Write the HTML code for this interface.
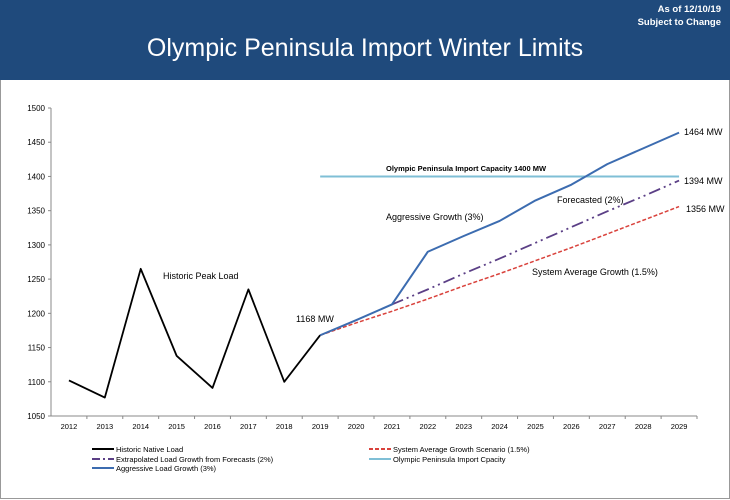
<!DOCTYPE html>
<html><head><meta charset="utf-8"><style>
body{margin:0;background:#fff;font-family:"Liberation Sans",sans-serif}
#wrap{position:relative;width:730px;height:500px;overflow:hidden;background:#fff}
</style></head><body>
<div id="wrap">
<div style="position:absolute;left:0;top:0;width:730px;height:80px;background:#1f4a7c"></div>
<div style="position:absolute;right:9px;top:3px;color:#fff;font-size:9.5px;font-weight:bold;text-align:right;line-height:13px">As of 12/10/19<br>Subject to Change</div>
<div style="position:absolute;left:0;width:730px;top:34px;color:#fff;font-size:25px;text-align:center">Olympic Peninsula Import Winter Limits</div>
<div style="position:absolute;left:0;top:80px;width:728px;height:418px;border:1px solid #999;border-top:none"></div>
<svg id="chart" width="730" height="500" style="position:absolute;left:0;top:0" font-family="Liberation Sans, sans-serif"></svg>
</div>
<script>
const years=[2012,2013,2014,2015,2016,2017,2018,2019,2020,2021,2022,2023,2024,2025,2026,2027,2028,2029];
const yTicks=[1050,1100,1150,1200,1250,1300,1350,1400,1450,1500];
const historicYears=[2012,2013,2014,2015,2016,2017,2018,2019];
const historicVals=[1102,1077,1265,1138,1091,1235,1100,1168];
const aggYears=[2019,2020,2021,2022,2023,2024,2025,2026,2027,2028,2029];
const aggVals=[1168,1190,1213,1290,1313,1335,1365,1388,1418,1441,1464];
const fcYears=[2021,2022,2023,2024,2025,2026,2027,2028,2029];
const fcVals=[1213,1235,1258,1280,1303,1326,1349,1371,1394];
const sysYears=[2019,2020,2021,2022,2023,2024,2025,2026,2027,2028,2029];
const sysVals=[1168,1186,1203,1221,1240,1258,1277,1296,1316,1336,1356];
const capYears=[2019,2029];
const capVals=[1400,1400];

const svg=document.getElementById('chart');
const NS='http://www.w3.org/2000/svg';
const X0=51,X1=697,Y0=416,Y1=108,YMIN=1050,YMAX=1500;
const step=(X1-X0)/years.length;
function xs(yr){return X0+step*(years.indexOf(yr)+0.5);}
function ys(v){return Y0-(v-YMIN)/(YMAX-YMIN)*(Y0-Y1);}
function mk(tag,attrs){const e=document.createElementNS(NS,tag);for(const k in attrs)e.setAttribute(k,attrs[k]);svg.appendChild(e);return e;}
function txt(x,y,s,size,anchor,weight){const t=mk('text',{x:x,y:y,'font-size':size,'text-anchor':anchor||'start',fill:'#000'});if(weight)t.setAttribute('font-weight',weight);t.textContent=s;return t;}

let ax=mk('line',{x1:X0,y1:Y1,x2:X0,y2:Y0,stroke:'#888','stroke-width':1});


ax=mk('line',{x1:X0,y1:Y0,x2:X1,y2:Y0,stroke:'#888','stroke-width':1});


yTicks.forEach(v=>{
  mk('line',{x1:X0-3,y1:ys(v),x2:X0,y2:ys(v),stroke:'#888'});
  const t=txt(X0-6,ys(v)+3,v,8,'end');
  
  
});
years.forEach((yr,i)=>{
  const tx=X0+step*(i+1);
  mk('line',{x1:tx,y1:Y0,x2:tx,y2:Y0+3,stroke:'#888'});
  const t=txt(xs(yr),Y0+13,yr,7.5,'middle');
  
  
});
function series(yrs,vals,color,w,dash,name){
  const p=mk('polyline',{points:yrs.map((y,i)=>xs(y)+','+ys(vals[i])).join(' '),fill:'none',stroke:color,'stroke-width':w,'stroke-linejoin':'round'});
  if(dash)p.setAttribute('stroke-dasharray',dash);
  
  
}
series(capYears,capVals,'#7fbfd6',2,null,'capacity-line');
series(sysYears,sysVals,'#d9423c',1.5,'4,2','system-average-line');
series(fcYears,fcVals,'#5b3f86',1.8,'12,4,2,4,2,4','forecast-line');
series(historicYears,historicVals,'#000',1.8,null,'historic-line');
series(aggYears,aggVals,'#3c6cb0',2,null,'aggressive-line');

const ann=[[163,279,'Historic Peak Load',9,'start',null],[296,322,'1168 MW',9,'start',null],
[386,171,'Olympic Peninsula Import Capacity 1400 MW',7.5,'start','bold'],[386,220,'Aggressive Growth (3%)',9,'start',null],
[557,203,'Forecasted (2%)',9,'start',null],[532,275,'System Average Growth (1.5%)',9,'start',null],
[684,135,'1464 MW',9,'start',null],[684,184,'1394 MW',9,'start',null],[686,212,'1356 MW',9,'start',null]];
ann.forEach(a=>{const t=txt(a[0],a[1],a[2],a[3],a[4],a[5]);
  
  });

const leg=[[92,449,'#000',null,'Historic Native Load'],[92,459,'#5b3f86','8,3,2,3','Extrapolated Load Growth from Forecasts (2%)'],[92,468,'#3c6cb0',null,'Aggressive Load Growth (3%)'],
[369,449,'#d9423c','4,2','System Average Growth Scenario (1.5%)'],[369,459,'#7fbfd6',null,'Olympic Peninsula Import Cpacity']];
leg.forEach(l=>{
  const g=mk('line',{x1:l[0],y1:l[1],x2:l[0]+22,y2:l[1],stroke:l[2],'stroke-width':2});
  if(l[3])g.setAttribute('stroke-dasharray',l[3]);
  
  
  const t=txt(l[0]+24,l[1]+3,l[4],7.5,'start');
  
  
});
</script>
</body></html>
